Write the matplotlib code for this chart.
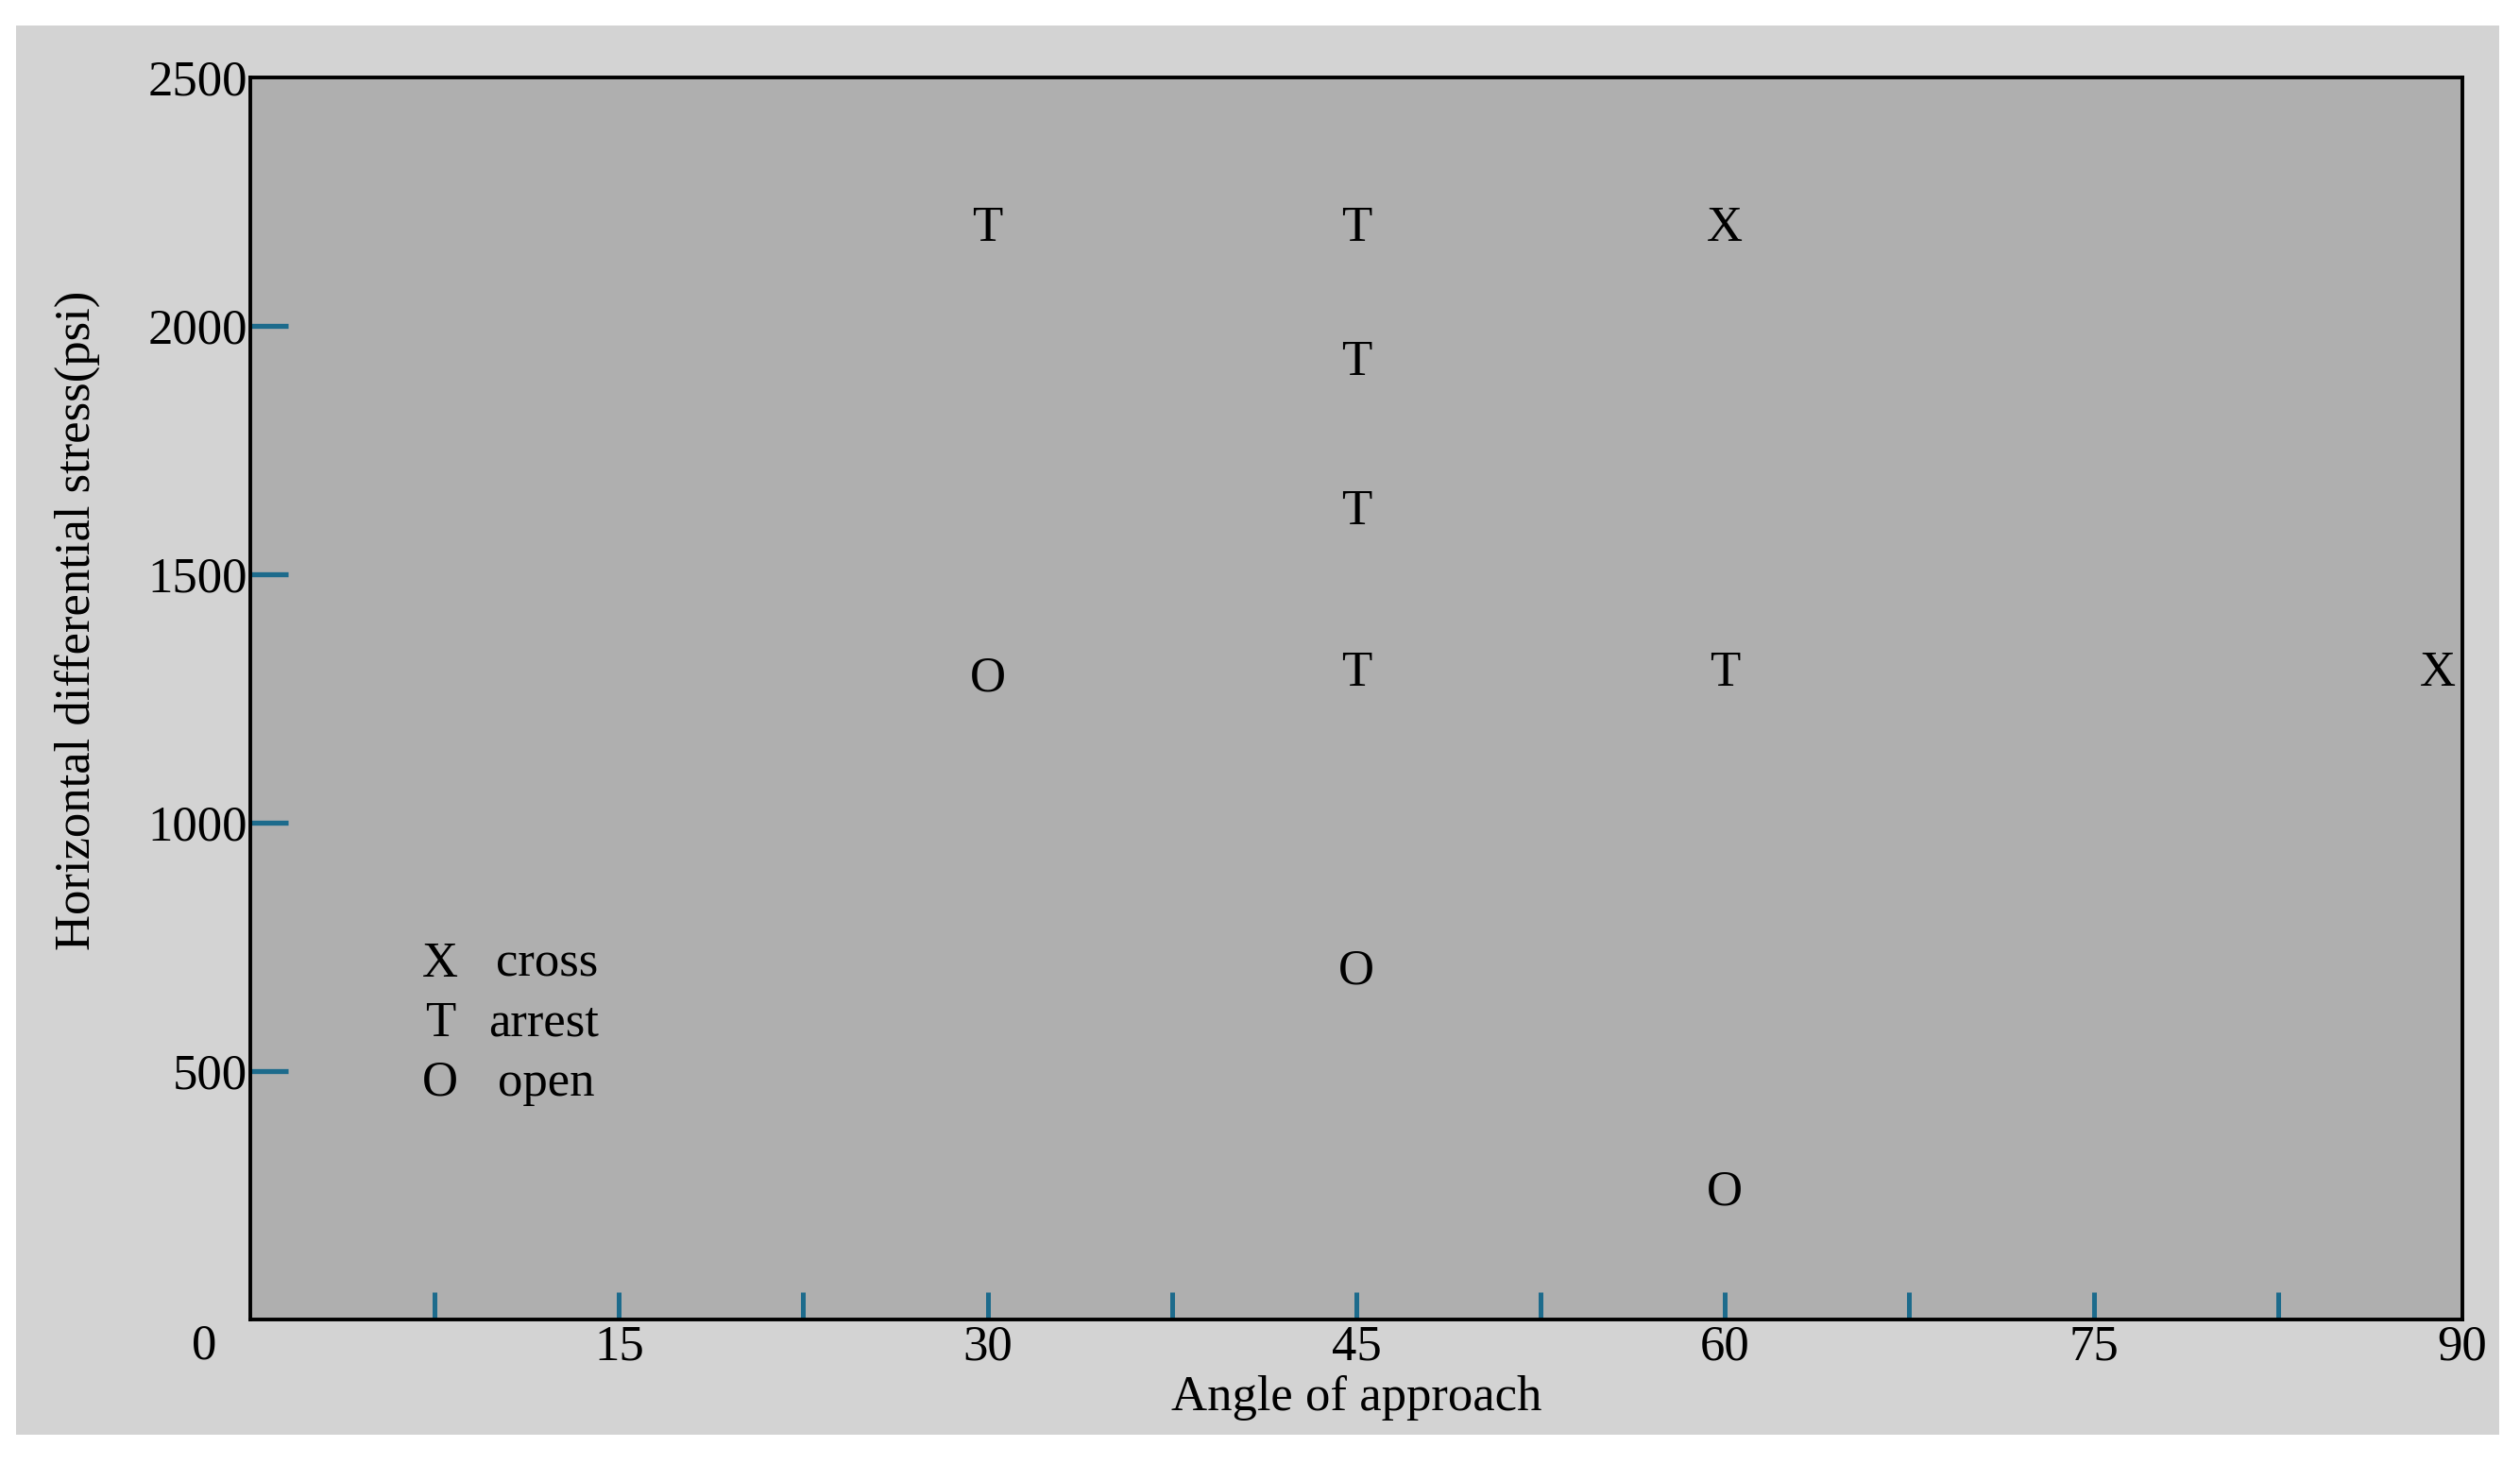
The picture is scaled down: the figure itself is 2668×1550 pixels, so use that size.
import matplotlib.pyplot as plt
from matplotlib.patches import Rectangle

# observations: angle of approach (deg), differential stress (psi), outcome code
angles = [30, 45, 60, 45, 45, 30, 45, 60, 89, 45, 60]
stress = [2195, 2195, 2195, 1925, 1625, 1290, 1300, 1300, 1300, 700, 255]
codes = ["T", "T", "X", "T", "T", "O", "T", "T", "X", "O", "O"]

legend_codes = ["X", "T", "O"]
legend_names = ["cross", "arrest", "open"]

x_major = [15, 30, 45, 60, 75, 90]
x_minor = [7.5, 22.5, 37.5, 52.5, 67.5, 82.5]
y_major = [500, 1000, 1500, 2000, 2500]

plt.rcParams["font.family"] = ["Liberation Serif", "DejaVu Serif"]
FS = 19
TICK_COLOR = "#1d6b8c"

fig = plt.figure(figsize=(13.34, 7.75), dpi=200, facecolor="white")
fig.add_artist(
    Rectangle(
        (17 / 2668, 1 - 1519 / 1550),
        (2646 - 17) / 2668,
        (1519 - 27) / 1550,
        transform=fig.transFigure,
        facecolor="#d3d3d3",
        edgecolor="none",
        zorder=-10,
    )
)

ax = fig.add_axes([0.0993, 0.0987, 0.8778, 0.8484])
ax.set_facecolor("#afafaf")
ax.set_xlim(0, 90)
ax.set_ylim(0, 2500)

for s in ax.spines.values():
    s.set_color("black")
    s.set_linewidth(1.4)

for x, y, c in zip(angles, stress, codes):
    ax.text(x, y, c, ha="center", va="center", fontsize=FS, color="black")

# key in the lower left
word_x = [0.111, 0.1076, 0.112]
for i, (c, name) in enumerate(zip(legend_codes, legend_names)):
    yy = 0.286 - i * 0.0478
    ax.text(0.086, yy, c, transform=ax.transAxes, ha="center", va="center", fontsize=FS)
    ax.text(word_x[i], yy, name, transform=ax.transAxes, ha="left", va="center", fontsize=FS)

ax.set_xticks(x_major)
ax.set_xticklabels([str(v) for v in x_major])
ax.set_xticks(x_minor, minor=True)
ax.set_yticks(y_major)
ax.set_yticklabels([str(v) for v in y_major])

ax.tick_params(axis="x", which="both", direction="in", length=10.5, width=1.8,
               color=TICK_COLOR, labelsize=FS, pad=2)
ax.tick_params(axis="y", which="major", direction="in", length=14.5, width=1.9,
               color=TICK_COLOR, labelsize=FS, pad=1)
ax.xaxis.get_major_ticks()[-1].tick1line.set_visible(False)
ax.yaxis.get_major_ticks()[-1].tick1line.set_visible(False)

# shared origin label
ax.text(-0.021, -0.022, "0", transform=ax.transAxes, ha="center", va="center", fontsize=FS)

ax.set_xlabel("Angle of approach", fontsize=FS)
ax.xaxis.set_label_coords(0.5, -0.045)
ax.set_ylabel("Horizontal differential stress(psi)", fontsize=FS)
ax.yaxis.set_label_coords(-0.068, 0.563)

fig.savefig("out.png", dpi=200, facecolor="white")
